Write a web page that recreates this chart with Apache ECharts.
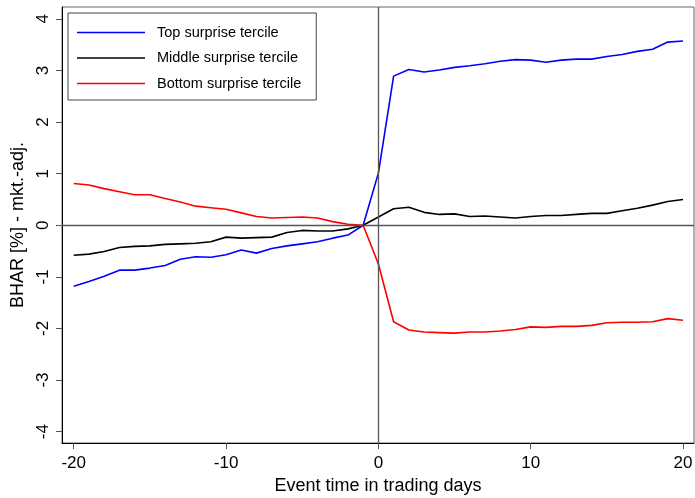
<!DOCTYPE html>
<html>
<head>
<meta charset="utf-8">
<script src="https://cdn.jsdelivr.net/npm/echarts@6/dist/echarts.min.js"></script>
<style>
  html, body { margin: 0; padding: 0; background: #fff; }
  #chart { width: 695px; height: 498px; }
</style>
</head>
<body>
<div id="chart"></div>
<script>
// event days -20..20
const days = [];
for (let d = -20; d <= 20; d++) days.push(d);

const topTercile = [
  -1.18, -1.09, -0.99, -0.87, -0.87, -0.83, -0.78, -0.66, -0.61, -0.62,
  -0.57, -0.48, -0.54, -0.45, -0.40, -0.36, -0.32, -0.25, -0.19, 0.00,
  1.01, 2.89, 3.02, 2.97, 3.01, 3.06, 3.09, 3.13, 3.18, 3.21,
  3.20, 3.16, 3.20, 3.22, 3.22, 3.27, 3.31, 3.37, 3.41, 3.55, 3.57
];
const middleTercile = [
  -0.58, -0.56, -0.51, -0.43, -0.41, -0.40, -0.37, -0.36, -0.35, -0.32,
  -0.23, -0.25, -0.24, -0.23, -0.14, -0.10, -0.11, -0.11, -0.07, 0.00,
  0.16, 0.32, 0.35, 0.25, 0.21, 0.22, 0.17, 0.18, 0.16, 0.14,
  0.17, 0.19, 0.19, 0.21, 0.23, 0.23, 0.28, 0.33, 0.39, 0.46, 0.50
];
const bottomTercile = [
  0.81, 0.78, 0.71, 0.65, 0.59, 0.59, 0.52, 0.45, 0.37, 0.34,
  0.31, 0.24, 0.17, 0.14, 0.15, 0.16, 0.14, 0.07, 0.02, 0.00,
  -0.75, -1.87, -2.03, -2.07, -2.08, -2.09, -2.07, -2.07, -2.05, -2.02,
  -1.97, -1.98, -1.96, -1.96, -1.94, -1.89, -1.88, -1.88, -1.87, -1.81, -1.84
];

const xTicks = [-20, -10, 0, 10, 20];
const yTicks = [-4, -3, -2, -1, 0, 1, 2, 3, 4];

const font = "'Liberation Sans', Arial, Helvetica, sans-serif";
const pairs = arr => days.map((d, i) => [d, arr[i]]);

const chart = echarts.init(document.getElementById("chart"));
chart.setOption({
  animation: false,
  textStyle: { fontFamily: font },
  grid: {
    left: 62, right: 1, top: 7, bottom: 55,
    outerBoundsMode: "none",
    show: true, borderColor: "#666", borderWidth: 1
  },
  legend: {
    orient: "vertical",
    left: 68,
    top: 13,
    padding: [12, 15, 9, 9],
    icon: "rect",
    itemWidth: 68,
    itemHeight: 1.6,
    itemGap: 10.5,
    borderColor: "#444",
    borderWidth: 1,
    textStyle: { fontSize: 14.5, color: "#000", fontFamily: font, padding: [0, 0, 0, 7] },
    data: ["Top surprise tercile", "Middle surprise tercile", "Bottom surprise tercile"]
  },
  xAxis: {
    type: "value",
    min: -20.77,
    max: 20.72,
    name: "Event time in trading days",
    nameLocation: "middle",
    nameGap: 28,
    nameTextStyle: { fontSize: 18, color: "#000", fontFamily: font },
    axisLine: { show: true, onZero: false, lineStyle: { color: "#000" } },
    axisTick: { show: true, length: 6, customValues: xTicks, lineStyle: { color: "#555" } },
    axisLabel: { customValues: xTicks, fontSize: 17, color: "#000", margin: 12 },
    splitLine: { show: false }
  },
  yAxis: {
    type: "value",
    min: -4.22,
    max: 4.23,
    name: "BHAR [%] - mkt.-adj.",
    nameLocation: "middle",
    nameGap: 25,
    nameTextStyle: { fontSize: 18, color: "#000", fontFamily: font },
    axisLine: { show: true, onZero: false, lineStyle: { color: "#000" } },
    axisTick: { show: true, length: 6, customValues: yTicks, lineStyle: { color: "#555" } },
    axisLabel: { customValues: yTicks, rotate: 90, fontSize: 17, color: "#000", margin: 10 },
    splitLine: { show: false }
  },
  series: [
    {
      name: "Top surprise tercile",
      type: "line",
      symbol: "none",
      data: pairs(topTercile),
      lineStyle: { color: "#0000ff", width: 1.6 },
      itemStyle: { color: "#0000ff" },
      markLine: {
        silent: true,
        symbol: "none",
        label: { show: false },
        lineStyle: { color: "#555", width: 1.3, type: "solid" },
        data: [{ xAxis: 0 }, { yAxis: 0 }]
      },
      z: 3
    },
    {
      name: "Middle surprise tercile",
      type: "line",
      symbol: "none",
      data: pairs(middleTercile),
      lineStyle: { color: "#000", width: 1.6 },
      itemStyle: { color: "#000" },
      z: 3
    },
    {
      name: "Bottom surprise tercile",
      type: "line",
      symbol: "none",
      data: pairs(bottomTercile),
      lineStyle: { color: "#ff0000", width: 1.6 },
      itemStyle: { color: "#ff0000" },
      z: 3
    }
  ]
});
</script>
</body>
</html>
